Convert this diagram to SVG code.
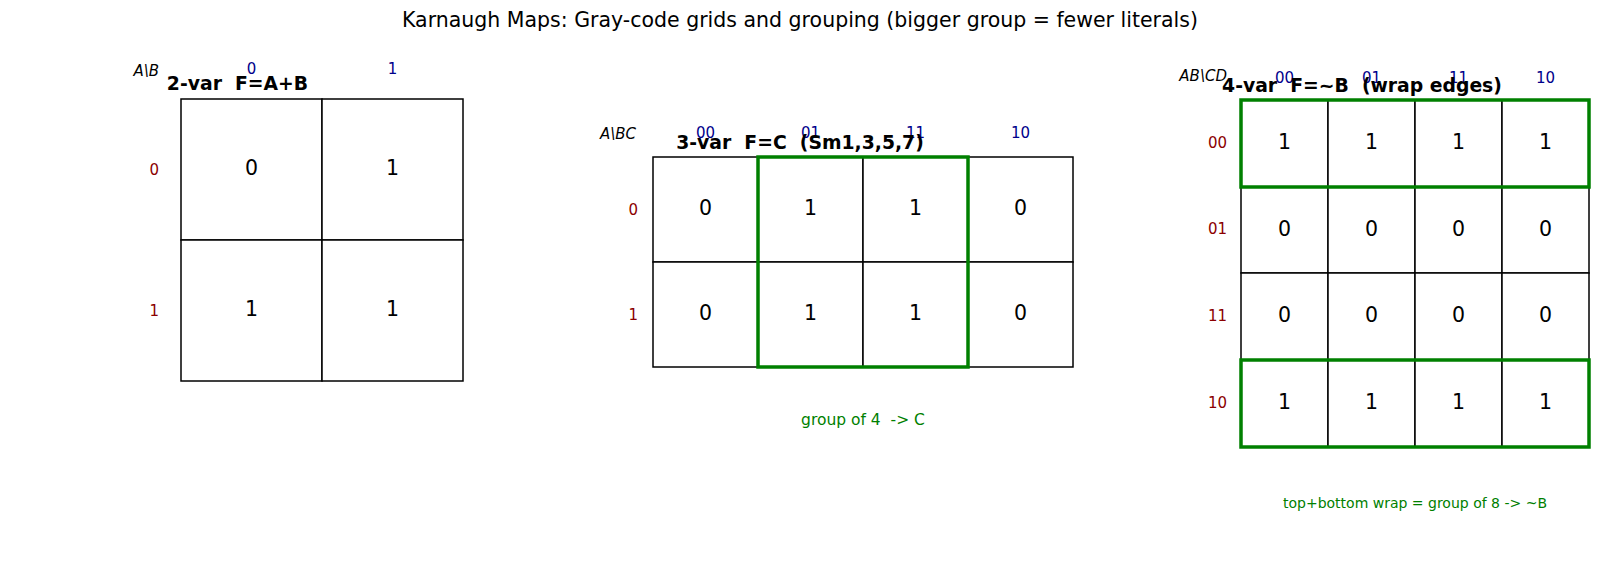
<svg xmlns="http://www.w3.org/2000/svg" width="1600" height="562" viewBox="0 0 1600 562">
<style>
text{font-family:"DejaVu Sans","Liberation Sans",sans-serif;white-space:pre}
.title{font-size:20.5px;fill:#000}
.sub{font-size:18.8px;font-weight:bold;fill:#000}
.col{font-size:15px;fill:#00008b;text-anchor:middle}
.row{font-size:15px;fill:#8b0000;text-anchor:end}
.ax{font-size:15px;font-style:italic;fill:#000;text-anchor:end}
.v{font-size:20.5px;fill:#000;text-anchor:middle}
.cell{fill:#fff;stroke:#000;stroke-width:1.5}
.grp{fill:none;stroke:#008000;stroke-width:3.5}
.note{font-size:14px;fill:#008000;text-anchor:middle}
</style>
<rect width="1600" height="562" fill="#fff"/>
<text class="title" x="800" y="27" text-anchor="middle">Karnaugh Maps: Gray-code grids and grouping (bigger group = fewer literals)</text>

<g id="map2">
<rect class="cell" x="181" y="99" width="141" height="141"/>
<rect class="cell" x="322" y="99" width="141" height="141"/>
<rect class="cell" x="181" y="240" width="141" height="141"/>
<rect class="cell" x="322" y="240" width="141" height="141"/>
<text class="v" x="251.5" y="175">0</text>
<text class="v" x="392.5" y="175">1</text>
<text class="v" x="251.5" y="316">1</text>
<text class="v" x="392.5" y="316">1</text>
<text class="col" x="251.5" y="74">0</text>
<text class="col" x="392.5" y="74">1</text>
<text class="row" x="159" y="174.5">0</text>
<text class="row" x="159" y="315.5">1</text>
<text class="ax" x="159" y="75.5">A\B</text>
<text class="sub" x="237.5" y="90" text-anchor="middle" xml:space="preserve">2-var  F=A+B</text>
</g>

<g id="map3">
<rect class="cell" x="653" y="157" width="105" height="105"/>
<rect class="cell" x="758" y="157" width="105" height="105"/>
<rect class="cell" x="863" y="157" width="105" height="105"/>
<rect class="cell" x="968" y="157" width="105" height="105"/>
<rect class="cell" x="653" y="262" width="105" height="105"/>
<rect class="cell" x="758" y="262" width="105" height="105"/>
<rect class="cell" x="863" y="262" width="105" height="105"/>
<rect class="cell" x="968" y="262" width="105" height="105"/>
<text class="v" x="705.5" y="215">0</text>
<text class="v" x="810.5" y="215">1</text>
<text class="v" x="915.5" y="215">1</text>
<text class="v" x="1020.5" y="215">0</text>
<text class="v" x="705.5" y="320">0</text>
<text class="v" x="810.5" y="320">1</text>
<text class="v" x="915.5" y="320">1</text>
<text class="v" x="1020.5" y="320">0</text>
<rect class="grp" x="758" y="157" width="210" height="210"/>
<text class="col" x="705.5" y="137.5">00</text>
<text class="col" x="810.5" y="137.5">01</text>
<text class="col" x="915.5" y="137.5">11</text>
<text class="col" x="1020.5" y="137.5">10</text>
<text class="row" x="638" y="214.5">0</text>
<text class="row" x="638" y="319.5">1</text>
<text class="ax" x="636" y="139">A\BC</text>
<text class="sub" x="800" y="148.5" text-anchor="middle" xml:space="preserve">3-var  F=C  (Sm1,3,5,7)</text>
<text class="note" x="863" y="425" style="font-size:15.5px" xml:space="preserve">group of 4  -&gt; C</text>
</g>

<g id="map4">
<g>
<rect class="cell" x="1241" y="100" width="87" height="87"/>
<rect class="cell" x="1328" y="100" width="87" height="87"/>
<rect class="cell" x="1415" y="100" width="87" height="87"/>
<rect class="cell" x="1502" y="100" width="87" height="87"/>
<rect class="cell" x="1241" y="187" width="87" height="86"/>
<rect class="cell" x="1328" y="187" width="87" height="86"/>
<rect class="cell" x="1415" y="187" width="87" height="86"/>
<rect class="cell" x="1502" y="187" width="87" height="86"/>
<rect class="cell" x="1241" y="273" width="87" height="87"/>
<rect class="cell" x="1328" y="273" width="87" height="87"/>
<rect class="cell" x="1415" y="273" width="87" height="87"/>
<rect class="cell" x="1502" y="273" width="87" height="87"/>
<rect class="cell" x="1241" y="360" width="87" height="87"/>
<rect class="cell" x="1328" y="360" width="87" height="87"/>
<rect class="cell" x="1415" y="360" width="87" height="87"/>
<rect class="cell" x="1502" y="360" width="87" height="87"/>
</g>
<text class="v" x="1284.5" y="149">1</text>
<text class="v" x="1371.5" y="149">1</text>
<text class="v" x="1458.5" y="149">1</text>
<text class="v" x="1545.5" y="149">1</text>
<text class="v" x="1284.5" y="235.5">0</text>
<text class="v" x="1371.5" y="235.5">0</text>
<text class="v" x="1458.5" y="235.5">0</text>
<text class="v" x="1545.5" y="235.5">0</text>
<text class="v" x="1284.5" y="322">0</text>
<text class="v" x="1371.5" y="322">0</text>
<text class="v" x="1458.5" y="322">0</text>
<text class="v" x="1545.5" y="322">0</text>
<text class="v" x="1284.5" y="409">1</text>
<text class="v" x="1371.5" y="409">1</text>
<text class="v" x="1458.5" y="409">1</text>
<text class="v" x="1545.5" y="409">1</text>
<rect class="grp" x="1241" y="100" width="348" height="87"/>
<rect class="grp" x="1241" y="360" width="348" height="87"/>
<text class="col" x="1284.5" y="83">00</text>
<text class="col" x="1371.5" y="83">01</text>
<text class="col" x="1458.5" y="83">11</text>
<text class="col" x="1545.5" y="83">10</text>
<text class="row" x="1227" y="147.5">00</text>
<text class="row" x="1227" y="234">01</text>
<text class="row" x="1227" y="321">11</text>
<text class="row" x="1227" y="407.5">10</text>
<text class="ax" x="1227" y="81">AB\CD</text>
<text class="sub" x="1362" y="91.5" text-anchor="middle" xml:space="preserve">4-var  F=~B  (wrap edges)</text>
<text class="note" x="1415" y="508" xml:space="preserve">top+bottom wrap = group of 8 -&gt; ~B</text>
</g>
</svg>
